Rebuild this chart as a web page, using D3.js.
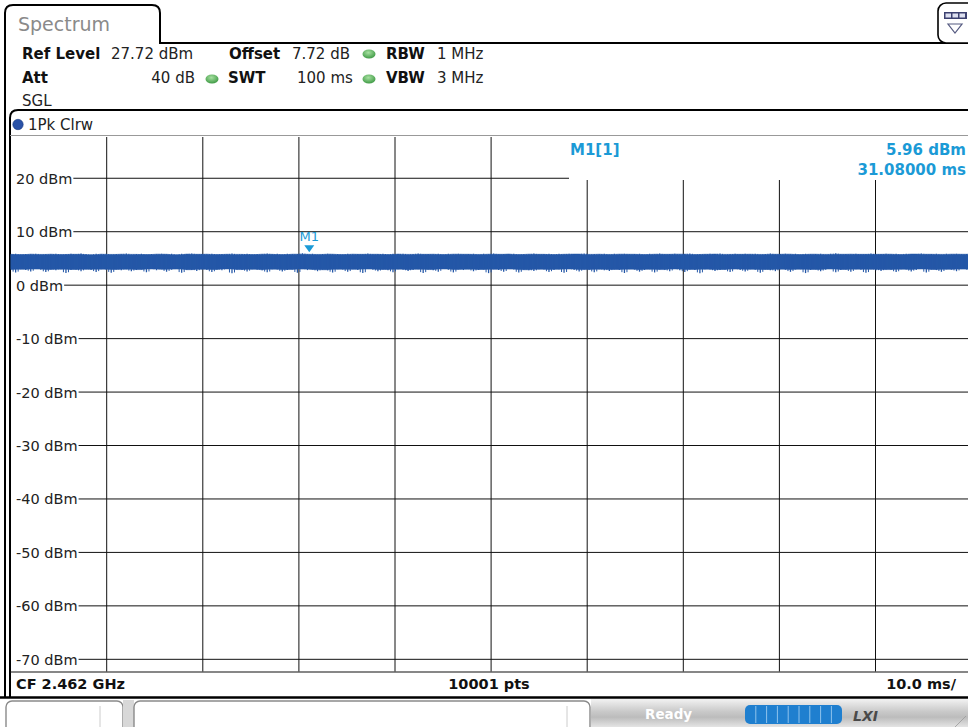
<!DOCTYPE html>
<html><head><meta charset="utf-8">
<script src="https://cdn.jsdelivr.net/npm/d3@7"></script>
<style>
body{margin:0;background:#fff;overflow:hidden;}
svg{display:block;font-family:"DejaVu Sans",Verdana,sans-serif;}
</style>
</head><body>
<svg id="c" width="968" height="727"></svg>
<script>
// ---------------- data ----------------
const yTicks = [20, 10, 0, -10, -20, -30, -40, -50, -60, -70];
const xTicks = [0, 10, 20, 30, 40, 50, 60, 70, 80, 90, 100];
const refLevel = 27.72, bottomLevel = -72.28, sweepMs = 100;
const marker = {name: "M1", trace: "M1[1]", timeMs: 31.08, level: 5.96};
const settingLabels = ["Ref Level", "Offset", "RBW", "Att", "SWT", "VBW"];
const settingValues = ["27.72 dBm", "7.72 dB", "1 MHz", "40 dB", "100 ms", "3 MHz"];
const footer = ["CF 2.462 GHz", "10001 pts", "10.0 ms/"];
const upperDbm = [
5.78,5.88,5.72,5.84,5.80,5.90,5.75,5.83,5.79,5.89,
5.74,5.82,5.87,5.77,5.91,5.81,5.70,5.86,5.80,5.89,
5.75,5.84,5.79,5.92,5.76,5.85,5.88,5.73,5.83,5.80,
5.90,5.78,5.86,5.71,5.87,5.81,5.93,5.77,5.84,5.79,
5.89,5.74,5.85,5.78,5.91,5.76,5.83,5.88,5.73,5.82,
5.80,5.92,5.77,5.86,5.72,5.89,5.79,5.84,5.96,5.78,
5.87,5.75,5.82,5.90,5.79,5.84,5.74,5.88,5.80,5.85,
5.77,5.91,5.78,5.82,5.89,5.73,5.86,5.81,5.90,5.76,
5.84,5.93,5.77,5.85,5.79,5.88,5.74,5.87,5.80,5.90,
5.78,5.83,5.89,5.75,5.86,5.79,5.92,5.77,5.84,5.82,
5.88,5.74,5.85,5.80,5.91,5.77,5.84,5.87,5.73,5.86,
5.78,5.90,5.81,5.82,5.94,5.76,5.85,5.79,5.89,5.75,
5.86,5.80,5.90,5.78,5.83,5.88,5.74,5.87,5.79,5.91,
5.77,5.84,5.89,5.80,5.82,5.93,5.74,5.85,5.78,5.88,
5.81,5.91,5.76,5.84,5.87,5.77,5.86,5.79,5.90,5.75,
5.85,5.92,5.78,5.82,5.89,5.80,5.86,5.73,5.90,5.79,
5.83,5.88,5.76,5.87,5.95,5.78,5.84,5.80,5.89,5.77,
5.85,5.91,5.77,5.82,5.88,5.79,5.86,5.74,5.90,5.81,
5.84,5.92,5.78,5.85,5.88,5.76,5.86,5.80,5.90,5.78,
5.82,5.89];
const lowerDbm = [
2.91,2.38,2.98,2.84,2.55,3.02,2.88,2.44,2.95,2.80,
2.99,2.27,2.86,2.93,2.62,2.97,2.82,2.48,3.00,2.89,
2.33,2.94,2.78,2.99,2.58,2.85,2.92,2.41,3.03,2.81,
2.96,2.52,2.87,3.01,2.30,2.90,2.83,2.66,2.98,2.86,
2.45,2.93,2.79,3.04,2.22,2.92,2.84,2.57,2.97,2.88,
2.77,2.40,2.99,2.91,2.54,2.86,2.95,2.32,3.01,2.82,
2.93,2.61,2.89,2.78,2.36,2.98,2.92,2.49,2.96,2.84,
2.27,3.02,2.87,2.59,2.94,2.81,2.43,3.00,2.90,2.64,
2.85,2.98,2.29,2.92,2.80,2.53,3.03,2.88,2.39,2.95,
2.83,2.99,2.60,2.86,2.93,2.25,2.97,2.84,2.50,3.01,
2.91,2.35,2.89,2.79,2.63,2.98,2.93,2.46,2.86,2.96,
2.31,3.02,2.82,2.56,2.92,2.87,2.42,2.98,2.78,2.67,
2.94,2.85,2.28,3.00,2.90,2.52,2.84,2.97,2.38,2.92,
2.88,2.60,3.03,2.81,2.47,2.95,2.86,2.24,2.99,2.91,
2.65,2.84,2.93,2.44,3.01,2.83,2.55,2.96,2.89,2.34,
2.93,2.78,2.62,2.99,2.87,2.49,2.92,2.98,2.26,2.85,
2.95,2.58,2.90,3.02,2.40,2.84,2.94,2.51,3.00,2.88,
2.30,2.97,2.80,2.66,2.92,2.88,2.45,2.98,2.91,2.57,
2.86,3.03,2.37,2.93,2.82,2.50,2.96,2.89,2.61,3.01,
2.92,2.47];

// ---------------- drawing ----------------
const svg = d3.select("#c");
const W = 968, H = 727;
const plot = {left: 10.6, right: 971.6, top: 137, bottom: 671.5};
const x = d3.scaleLinear().domain([0, sweepMs]).range([plot.left, plot.right]);
const y = d3.scaleLinear().domain([bottomLevel, refLevel]).range([plot.bottom, plot.top]);
const blue = "#1b9ad6", traceCol = "#2457a7";

const defs = svg.append("defs");
const g1 = defs.append("linearGradient").attr("id","stat").attr("x1",0).attr("x2",0).attr("y1",0).attr("y2",1);
g1.append("stop").attr("offset","0%").attr("stop-color","#f2f2f2");
g1.append("stop").attr("offset","45%").attr("stop-color","#c9c9c9");
g1.append("stop").attr("offset","65%").attr("stop-color","#bcbcbc");
g1.append("stop").attr("offset","100%").attr("stop-color","#e4e4e4");
const g2 = defs.append("radialGradient").attr("id","led").attr("cx","45%").attr("cy","35%").attr("r","65%");
g2.append("stop").attr("offset","0%").attr("stop-color","#a6e0a0");
g2.append("stop").attr("offset","100%").attr("stop-color","#3f9a45");
defs.append("clipPath").attr("id","pc").append("rect")
  .attr("x",plot.left).attr("y",plot.top).attr("width",W-plot.left).attr("height",plot.bottom-plot.top);

svg.append("rect").attr("width",W).attr("height",H).attr("fill","#fff");

// Tab
svg.append("path").attr("d","M5,697 L5,13 Q5,5 13,5 L152,5 Q160,5 160,13 L160,43 L968,43")
  .attr("fill","none").attr("stroke","#000").attr("stroke-width",2);
svg.append("text").attr("x",18).attr("y",31).attr("font-size",19).attr("fill","#8a8a8a").text("Spectrum");
// icon box top right
svg.append("rect").attr("x",938).attr("y",3).attr("width",45).attr("height",40).attr("rx",8)
  .attr("fill","#fff").attr("stroke","#000").attr("stroke-width",1.6);
svg.append("rect").attr("x",944).attr("y",12).attr("width",23).attr("height",7).attr("fill","#3c4170");
[945.5,952.5,959.5].forEach(cx=>svg.append("rect").attr("x",cx).attr("y",13.5).attr("width",5.5).attr("height",4).attr("fill","#dde0f0"));
svg.append("path").attr("d","M948,24 L962,24 L955,33 Z").attr("fill","#fff").attr("stroke","#555a80").attr("stroke-width",1.2);

// Settings header
const colX = [[22,111],[229,292],[386,437],[22,null],[228,297],[386,437]];
settingLabels.forEach((lab,i)=>{
  const row = i<3 ? 59 : 83;
  svg.append("text").attr("x",colX[i][0]).attr("y",row).attr("font-size",15).attr("font-weight","bold").attr("fill","#111").text(lab);
  const t = svg.append("text").attr("y",row).attr("font-size",15).attr("fill","#222").text(settingValues[i]);
  if (colX[i][1]===null) t.attr("x",195).attr("text-anchor","end"); else t.attr("x",colX[i][1]);
});
[[369,54],[212,79],[369,79]].forEach(p=>svg.append("ellipse").attr("cx",p[0]).attr("cy",p[1]).attr("rx",6.5).attr("ry",4.5).attr("fill","url(#led)"));
svg.append("text").attr("x",22).attr("y",106).attr("font-size",15).attr("fill","#222").text("SGL");

// trace box
svg.append("path").attr("d","M10,697 L10,118 Q10,110 18,110 L968,110").attr("fill","none").attr("stroke","#000").attr("stroke-width",2);
svg.append("line").attr("x1",10).attr("x2",W).attr("y1",135.5).attr("y2",135.5).attr("stroke","#999").attr("stroke-width",1);
svg.append("circle").attr("cx",18).attr("cy",124.5).attr("r",5.2).attr("fill","#2a52a8").attr("stroke","#1a3a80").attr("stroke-width",0.6);
svg.append("text").attr("x",28).attr("y",129.5).attr("font-size",15).attr("fill","#222").text("1Pk Clrw");

// grid
const grid = svg.append("g");
xTicks.slice(1,-1).forEach(t=>{
  grid.append("line").attr("x1",x(t)).attr("x2",x(t)).attr("y1",plot.top).attr("y2",plot.bottom)
    .attr("stroke","#111").attr("stroke-width",1);
});
yTicks.forEach(t=>{
  const lab = grid.append("text").attr("x",16).attr("y",y(t)+5.5).attr("font-size",14.5).attr("fill","#222").text(t+" dBm");
  const w = lab.node().getComputedTextLength();
  grid.append("line").attr("x1",16+w+1).attr("x2",W).attr("y1",y(t)).attr("y2",y(t)).attr("stroke","#111").attr("stroke-width",1);
});
// marker info area
svg.append("rect").attr("x",569).attr("y",plot.top).attr("width",W-569).attr("height",43).attr("fill","#fff");
svg.append("text").attr("x",570).attr("y",155).attr("font-size",15).attr("font-weight","bold").attr("fill",blue).text(marker.trace);
svg.append("text").attr("x",966).attr("y",155).attr("text-anchor","end").attr("font-size",15).attr("font-weight","bold").attr("fill",blue).text(marker.level.toFixed(2)+" dBm");
svg.append("text").attr("x",966).attr("y",175).attr("text-anchor","end").attr("font-size",15).attr("font-weight","bold").attr("fill",blue).text(marker.timeMs.toFixed(5)+" ms");

// trace: solid core band plus thin per-sample peak strokes
const n = upperDbm.length;
const tx = i => x(i*sweepMs/(n-1));
const coreTop = i => d3.min([upperDbm[Math.max(0,i-1)], upperDbm[i], upperDbm[Math.min(n-1,i+1)]]);
const coreBot = i => d3.max([lowerDbm[Math.max(0,i-1)], lowerDbm[i], lowerDbm[Math.min(n-1,i+1)]]);
const tg = svg.append("g").attr("clip-path","url(#pc)");
const area = d3.area().x((d,i)=>tx(i)).y0((d,i)=>y(coreBot(i))).y1((d,i)=>y(coreTop(i)));
tg.append("path").datum(upperDbm).attr("d",area).attr("fill",traceCol).attr("stroke",traceCol).attr("stroke-width",0.6);
tg.selectAll("line.pk").data(upperDbm).join("line").attr("class","pk")
  .attr("x1",(d,i)=>tx(i)).attr("x2",(d,i)=>tx(i))
  .attr("y1",d=>y(d)).attr("y2",(d,i)=>y(lowerDbm[i]))
  .attr("stroke",traceCol).attr("stroke-width",1.3);
tg.selectAll("line.pk2").data(d3.range(n-1)).join("line").attr("class","pk2")
  .attr("x1",i=>(tx(i)+tx(i+1))/2).attr("x2",i=>(tx(i)+tx(i+1))/2)
  .attr("y1",i=>y(d3.max([upperDbm[i],upperDbm[i+1]])-0.06))
  .attr("y2",i=>y(d3.min([lowerDbm[i],lowerDbm[i+1]])+0.15))
  .attr("stroke",traceCol).attr("stroke-width",1);

// marker
const mx = x(marker.timeMs), my = y(marker.level);
svg.append("path").attr("d",`M${mx-5},${my-8} L${mx+5},${my-8} L${mx},${my-1} Z`).attr("fill",blue);
svg.append("text").attr("x",mx).attr("y",my-12).attr("text-anchor","middle").attr("font-size",13).attr("fill",blue).text(marker.name);

// bottom bar
svg.append("line").attr("x1",10).attr("x2",W).attr("y1",plot.bottom+0.5).attr("y2",plot.bottom+0.5).attr("stroke","#111").attr("stroke-width",1.2);
svg.append("text").attr("x",16).attr("y",689).attr("font-size",14.5).attr("font-weight","bold").attr("fill","#111").text(footer[0]);
svg.append("text").attr("x",489).attr("y",689).attr("text-anchor","middle").attr("font-size",14.5).attr("font-weight","bold").attr("fill","#111").text(footer[1]);
svg.append("text").attr("x",956).attr("y",689).attr("text-anchor","end").attr("font-size",14.5).attr("font-weight","bold").attr("fill","#111").text(footer[2]);
svg.append("line").attr("x1",0).attr("x2",W).attr("y1",697.5).attr("y2",697.5).attr("stroke","#000").attr("stroke-width",2.6);

// status bar
svg.append("rect").attr("x",591).attr("y",699).attr("width",W-591).attr("height",28).attr("fill","url(#stat)");
svg.append("rect").attr("x",6).attr("y",701).attr("width",117).attr("height",40).attr("rx",6).attr("fill","#fff").attr("stroke","#8a8a8a").attr("stroke-width",1.4);
svg.append("line").attr("x1",100).attr("x2",100).attr("y1",706).attr("y2",727).attr("stroke","#ccc");
svg.append("rect").attr("x",123).attr("y",700).attr("width",11).attr("height",30).attr("fill","#d8d8d8");
svg.append("rect").attr("x",134).attr("y",701).attr("width",456).attr("height",40).attr("rx",6).attr("fill","#fff").attr("stroke","#8a8a8a").attr("stroke-width",1.4);
svg.append("line").attr("x1",567).attr("x2",567).attr("y1",706).attr("y2",727).attr("stroke","#ccc");
svg.append("text").attr("x",645).attr("y",719).attr("font-size",13.5).attr("font-weight","bold").attr("fill","#fff").text("Ready");
svg.append("rect").attr("x",745).attr("y",705).attr("width",97).attr("height",19).attr("rx",5).attr("fill","#1f7fcf");
d3.range(1,9).forEach(k=>svg.append("line").attr("x1",745+k*10.8).attr("x2",745+k*10.8).attr("y1",706).attr("y2",723).attr("stroke","#8fc3ec").attr("stroke-width",1));
svg.append("text").attr("x",853).attr("y",721).attr("font-size",14).attr("font-weight","bold").attr("font-style","italic").attr("fill","#4a4a4a").text("LXI");
svg.append("line").attr("x1",955).attr("x2",966).attr("y1",727).attr("y2",716).attr("stroke","#999").attr("stroke-width",0.8);
</script>
</body></html>
